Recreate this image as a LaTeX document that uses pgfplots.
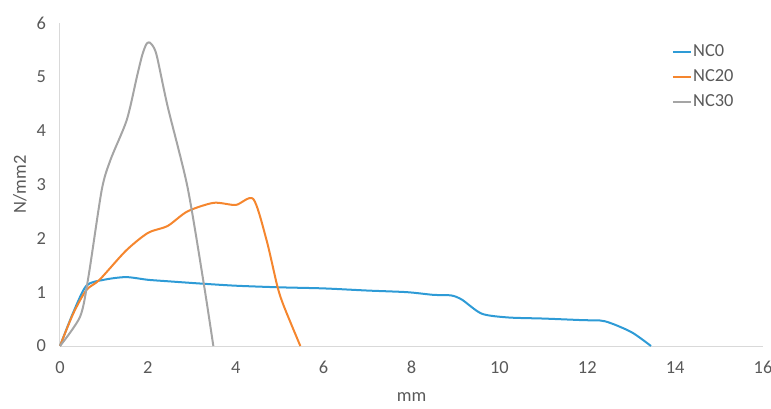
\documentclass[border=0pt]{standalone}
\usepackage{fontspec}
\setmainfont{Carlito}
\usepackage{pgfplots}
\pgfplotsset{compat=1.18}
\definecolor{ncblue}{HTML}{2E9BD6}
\definecolor{ncorange}{HTML}{F5862E}
\definecolor{ncgray}{HTML}{A5A5A5}
\definecolor{txt}{HTML}{595959}
\definecolor{axln}{HTML}{D9D9D9}
\begin{document}
\begin{tikzpicture}
\begin{axis}[name=ax,
    scale only axis,
    width=527.25pt, height=242.25pt,
    xmin=0, xmax=16, ymin=0, ymax=6,
    xtick={0,2,...,16}, ytick={0,1,...,6},
    axis lines=left,
    axis line style={axln, line width=0.75pt, -},
    major tick length=0pt,
    tick label style={txt, font=\fontsize{13.8}{16}\selectfont},
    /pgf/number format/assume math mode=true,
    xticklabel style={yshift=-8pt},
    yticklabel style={xshift=-7pt},
    xlabel={mm}, ylabel={N/mm2},
    label style={txt, font=\fontsize{13.8}{16}\selectfont},
    x label style={at={(axis description cs:0.5,0)}, anchor=center, yshift=-38pt},
    y label style={at={(axis description cs:0,0.5)}, anchor=center, yshift=30pt},
    legend style={at={(0.870,0.937)}, anchor=north west, draw=none, fill=none,
        font=\fontsize{13.8}{16}\selectfont, text=txt, row sep=6.3pt,
        inner sep=0pt, nodes={inner sep=1pt}},
    legend cell align=left,
    legend image code/.code={\draw[#1] (0pt,0pt) -- (13.5pt,0pt);},
    every axis plot/.append style={line width=1.5pt, smooth, tension=0.45, mark=none},
    clip=false,
]
\addplot[ncblue] coordinates {
    (0,0) (0.3,0.62) (0.6,1.12) (1,1.23) (1.5,1.28) (2,1.23) (2.5,1.2)
    (3.2,1.16) (4,1.12) (5,1.09) (6,1.07) (7,1.03) (7.9,1.0) (8.5,0.95)
    (8.9,0.94) (9.15,0.86) (9.6,0.6) (10.2,0.53) (11,0.51) (11.9,0.48) (12.4,0.46)
    (13,0.26) (13.45,0)};
\addlegendentry{NC0}
\addplot[ncorange] coordinates {
    (0,0) (0.3,0.6) (0.6,1.04) (0.9,1.23) (1.5,1.77) (2,2.1) (2.45,2.23)
    (2.9,2.5) (3.5,2.66) (4,2.62) (4.4,2.73) (4.7,1.97) (4.95,1.1)
    (5.1,0.73) (5.47,0)};
\addlegendentry{NC20}
\addplot[ncgray] coordinates {
    (0,0) (0.46,0.55) (0.65,1.3) (0.95,2.9) (1.15,3.46) (1.52,4.2)
    (1.75,5.0) (1.87,5.4) (1.96,5.6) (2.02,5.64) (2.09,5.6) (2.2,5.4)
    (2.45,4.45) (2.9,2.96) (3.27,1.17) (3.49,0)};
\addlegendentry{NC30}
\end{axis}
\pgfresetboundingbox
\path (ax.south west) ++(-45pt,-46.5pt) coordinate (bl);
\path (ax.north east) ++(6pt,17.25pt) coordinate (tr);
\path[use as bounding box] (bl) rectangle (tr);
\end{tikzpicture}
\end{document}
